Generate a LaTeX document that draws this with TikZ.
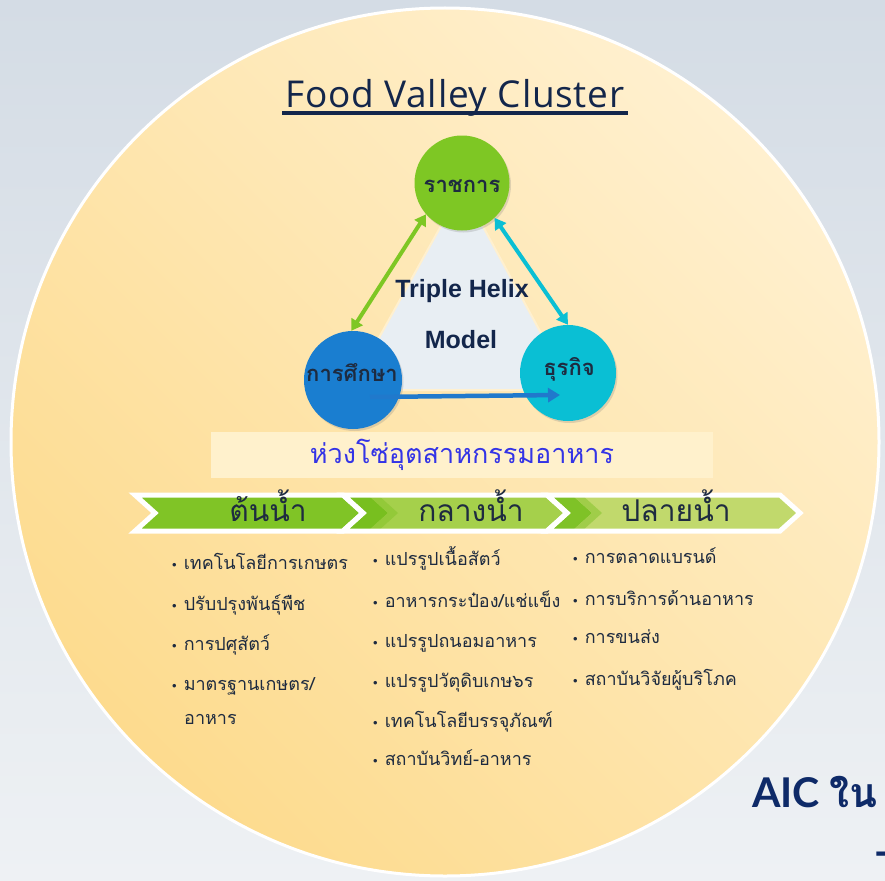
\documentclass[tikz,border=0pt]{standalone}
\usepackage{fontspec}
\setmainfont{Lato}
\newfontfamily\titlefont[LetterSpace=2]{Open Sans}
\newfontfamily\thaifont[Script=Thai]{Loma}
\newfontfamily\helixfont{Liberation Sans}
\newfontfamily\bulfont{Liberation Sans}
\usepackage{tikz}
\usetikzlibrary{positioning, calc, arrows.meta, shadows}
\definecolor{bgtop}{HTML}{D4DCE5}
\definecolor{bgbottom}{HTML}{EEF1F4}
\definecolor{disclight}{HTML}{FFF0CF}
\definecolor{discdeep}{HTML}{FDDB8E}
\definecolor{navytext}{HTML}{13264B}
\definecolor{govgreen}{HTML}{7EC724}
\definecolor{edublue}{HTML}{1A7ED0}
\definecolor{buscyan}{HTML}{0ABFD4}
\definecolor{arrowblue}{HTML}{2079CC}
\definecolor{helixfill}{HTML}{E8EEF3}
\definecolor{chainblue}{HTML}{3434E6}
\definecolor{chainband}{HTML}{FFF1CC}
\definecolor{stageone}{HTML}{80C426}
\definecolor{stagetwo}{HTML}{A5D04B}
\definecolor{stagethree}{HTML}{C1D96C}
\definecolor{stagedark}{HTML}{78BF1F}
\definecolor{itemtext}{HTML}{1E2B40}
\definecolor{aicnavy}{HTML}{0E2A68}
\newcommand{\bul}{{\bulfont\fontsize{13}{13}\selectfont\textbullet}\hspace{7pt}}

\begin{document}
\begin{tikzpicture}[
  x=1pt, y=-1pt,
  titlelabel/.style={font=\titlefont\fontsize{37}{40}\selectfont, text=navytext, anchor=base, inner sep=0},
  helixnode/.style={circle, inner sep=0, drop shadow={opacity=0.25, shadow xshift=1.5pt, shadow yshift=-2pt}},
  circlabel/.style={font=\thaifont\bfseries\fontsize{22}{26}\selectfont, text=itemtext, anchor=base, inner sep=0},
  helixlabel/.style={font=\helixfont\bfseries\fontsize{25}{28}\selectfont, text=navytext, anchor=base, inner sep=0},
  helixarrow/.style={line width=4pt, {Triangle[length=11pt,width=13pt]}-{Triangle[length=11pt,width=13pt]}},
  stagelabel/.style={font=\thaifont\fontsize{30}{34}\selectfont, text=itemtext, anchor=base, inner sep=0},
  itementry/.style={font=\thaifont\fontsize{18}{22}\selectfont, text=itemtext, anchor=base west, inner sep=0},
]

% Background and disc
\useasboundingbox (0,0) rectangle (885,880);
\shade[top color=bgtop, bottom color=bgbottom] (0,0) rectangle (885,880);
\shade[top color=disclight, bottom color=discdeep, shading angle=-45] (445,442) circle[radius=434];
\draw[white, line width=3pt] (445,442) circle[radius=434];

% ==================== Title ====================
\node[titlelabel] (title) at (455,107) {Food Valley Cluster};
\draw[navytext, line width=4pt] (282,113) -- (628,113);

% ==================== Triple helix ====================
\fill[helixfill, draw=disclight, line width=2pt] (462,188) -- (350,390) -- (572,390) -- cycle;
\node[helixnode, fill=govgreen, minimum size=95pt] (gov) at (462,183) {};
\node[helixnode, fill=edublue, minimum size=98pt] (edu) at (353,380) {};
\node[helixnode, fill=buscyan, minimum size=96pt] (bus) at (568,373) {};
\node[circlabel] (govlabel) at (462,192) {ราชการ};
\node[circlabel] (edulabel) at (352,381) {การศึกษา};
\node[circlabel] (buslabel) at (569,375) {ธุรกิจ};
\node[helixlabel] (helixtop) at (462,297) {Triple Helix};
\node[helixlabel] (helixbottom) at (461,348) {Model};
\draw[helixarrow, govgreen] (gov.221) -- (edu.92);
\draw[helixarrow, buscyan] (gov.313) -- (bus.90);
\draw[line width=4.5pt, arrowblue, -{Triangle[length=12pt,width=14pt]}] ([shift={(17,17)}]edu.center) -- ([shift={(-8,22)}]bus.center);

% ==================== Food industry chain ====================
\node[fill=chainband, minimum width=502pt, minimum height=46pt, inner sep=0,
  font=\thaifont\fontsize{27}{30}\selectfont, text=chainblue] (chain) at (462,455) {ห่วงโซ่อุตสาหกรรมอาหาร};

% ==================== Stage chevrons ====================
\fill[stageone] (135,495) -- (343,495) -- (363,513) -- (343,531) -- (135,531) -- (155,513) -- cycle;
\fill[stagetwo] (343,495) -- (547,495) -- (567,513) -- (547,531) -- (343,531) -- (363,513) -- cycle;
\fill[stagedark] (343,495) -- (368,495) -- (388,513) -- (368,531) -- (343,531) -- (363,513) -- cycle;
\fill[stagetwo!60!stagedark] (368,495) -- (378,495) -- (398,513) -- (378,531) -- (368,531) -- (388,513) -- cycle;
\fill[stagethree] (547,495) -- (780,495) -- (800,513) -- (780,531) -- (547,531) -- (567,513) -- cycle;
\fill[stagedark!90!stagethree] (547,495) -- (572,495) -- (592,513) -- (572,531) -- (547,531) -- (567,513) -- cycle;
\fill[stagethree!55!stagedark] (572,495) -- (582,495) -- (602,513) -- (582,531) -- (572,531) -- (592,513) -- cycle;
\draw[white, line width=5pt, line join=miter] (135,495) -- (343,495) -- (363,513) -- (343,531) -- (135,531) -- (155,513) -- cycle;
\draw[white, line width=5pt, line join=miter] (343,495) -- (547,495) -- (567,513) -- (547,531) -- (343,531) -- (363,513) -- cycle;
\draw[white, line width=5pt, line join=miter] (547,495) -- (780,495) -- (800,513) -- (780,531) -- (547,531) -- (567,513) -- cycle;
\node[stagelabel] (upstream) at (268,521) {ต้นน้ำ};
\node[stagelabel] (midstream) at (471,521) {กลางน้ำ};
\node[stagelabel] (downstream) at (676,521) {ปลายน้ำ};

% ==================== Upstream items ====================
\node[itementry] (up1) at (172,569) {\bul เทคโนโลยีการเกษตร};
\node[itementry] (up2) at (172,610) {\bul ปรับปรุงพันธุ์พืช};
\node[itementry] (up3) at (172,650) {\bul การปศุสัตว์};
\node[itementry] (up4) at (172,690) {\bul มาตรฐานเกษตร/};
\node[itementry] (up4b) at (184,724) {อาหาร};

% ==================== Midstream items ====================
\node[itementry] (mid1) at (373,565) {\bul แปรรูปเนื้อสัตว์};
\node[itementry] (mid2) at (373,607) {\bul อาหารกระป๋อง/แช่แข็ง};
\node[itementry] (mid3) at (373,647) {\bul แปรรูปถนอมอาหาร};
\node[itementry] (mid4) at (373,687) {\bul แปรรูปวัตุดิบเกษ๖ร};
\node[itementry] (mid5) at (373,727) {\bul เทคโนโลยีบรรจุภัณฑ์};
\node[itementry] (mid6) at (373,765) {\bul สถาบันวิทย์-อาหาร};

% ==================== Downstream items ====================
\node[itementry] (down1) at (573,563) {\bul การตลาดแบรนด์};
\node[itementry] (down2) at (573,605) {\bul การบริการด้านอาหาร};
\node[itementry] (down3) at (573,643) {\bul การขนส่ง};
\node[itementry] (down4) at (573,685) {\bul สถาบันวิจัยผู้บริโภค};

% ==================== AIC ====================
\node[font=\bfseries\fontsize{41}{46}\selectfont, text=aicnavy, anchor=base west, inner sep=0] (aic) at (752,807) {AIC {\thaifont ใน}};
\node[font=\bfseries\fontsize{41}{46}\selectfont, text=aicnavy, anchor=base west, inner sep=0] (aictail) at (874,866) {-};

\end{tikzpicture}
\end{document}
